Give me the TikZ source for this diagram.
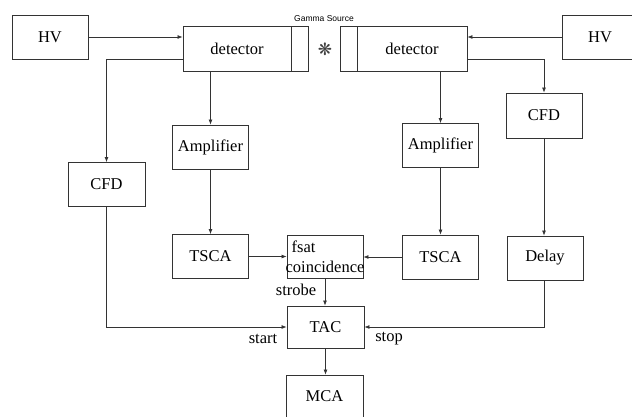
\documentclass[tikz,border=0pt]{standalone}
\usepackage{fontspec}
\setmainfont{Liberation Serif}
\newfontfamily\labelsans{Liberation Sans}
\newfontfamily\symbfont{DejaVu Sans}
\usetikzlibrary{arrows.meta, calc, positioning}

\begin{document}
\begin{tikzpicture}[x=1pt, y=-1pt,
    box/.style={draw=black!80, line width=0.9pt, minimum width=76pt, minimum height=44pt, inner sep=0pt, font=\fontsize{16.5}{20}\selectfont},
    arr/.style={draw=black!80, line width=0.7pt, -{Latex[length=5pt,width=4pt]}},
    txt/.style={inner sep=0pt, font=\fontsize{16.5}{20}\selectfont}]
    \useasboundingbox (0,0) rectangle (632,416);
      % top row
      \node[box] (hvl) at (50,37) {HV};
      \node[box, minimum width=108pt, minimum height=45pt] (detl) at (237,48.5) {detector};
      \node[box, minimum width=17pt, minimum height=45pt] (winl) at (299.5,48.5) {};
      \node[box, minimum width=17pt, minimum height=45pt] (winr) at (348.5,48.5) {};
      \node[box, minimum width=110pt, minimum height=45pt] (detr) at (412,48.5) {detector};
      \node[box] (hvr) at (600,37) {HV};
      \node[inner sep=0pt, font=\labelsans\fontsize{8.5}{9}\selectfont] (gamma) at (324,19) {Gamma Source};
      \node[inner sep=0pt, font=\symbfont\fontsize{17}{17}\selectfont, text=black!75] (src) at (325,49) {❋};
      % left branch
      \node[box, minimum width=77pt] (cfdl) at (106.5,184.5) {CFD};
      \node[box] (ampl) at (210.5,147) {Amplifier};
      \node[box] (tscal) at (210.5,256.5) {TSCA};
      % right branch
      \node[box] (ampr) at (440.5,145.5) {Amplifier};
      \node[box, minimum height=45pt] (cfdr) at (544,115.5) {CFD};
      \node[box] (tscar) at (440.5,257) {TSCA};
      \node[box] (delay) at (545,258) {Delay};
      % middle
      \node[box, minimum height=43pt] (coin) at (325,256.5) {};
      \node[txt, align=left] (cointxt) at (325,257) {\hspace{6pt}fsat\\coincidence};
      \node[box, minimum width=77pt, minimum height=42pt] (tac) at (325.5,327) {TAC};
      \node[box, minimum width=77pt, minimum height=43pt] (mca) at (324.5,396.5) {MCA};
      \node[txt] (strobe) at (296,290) {strobe};
      \node[txt] (start) at (263,339) {start};
      \node[txt] (stop) at (389,339) {stop};
      % connections
      \draw[arr] (hvl.east) -- (hvl.east -| detl.west);
      \draw[arr] (hvr.west) -- (hvr.west -| detr.east);
      \draw[arr] ([yshift=-10.5pt]detl.west) -| (cfdl.north);
      \draw[arr] ([yshift=-10.5pt]detr.east) -| (cfdr.north);
      \draw[arr] (ampl.north |- detl.south) -- (ampl.north);
      \draw[arr] (ampr.north |- detr.south) -- (ampr.north);
      \draw[arr] (ampl.south) -- (tscal.north);
      \draw[arr] (ampr.south) -- (tscar.north);
      \draw[arr] (cfdr.south) -- (cfdr.south |- delay.north);
      \draw[arr] (tscal.east) -- (tscal.east -| coin.west);
      \draw[arr] (tscar.west) -- (tscar.west -| coin.east);
      \draw[arr] (coin.south) -- (coin.south |- tac.north);
      \draw[arr] (cfdl.south) |- (tac.west);
      \draw[arr] (cfdr.south |- delay.south) |- (tac.east);
      \draw[arr] (tac.south) -- (tac.south |- mca.north);
\end{tikzpicture}
\end{document}
